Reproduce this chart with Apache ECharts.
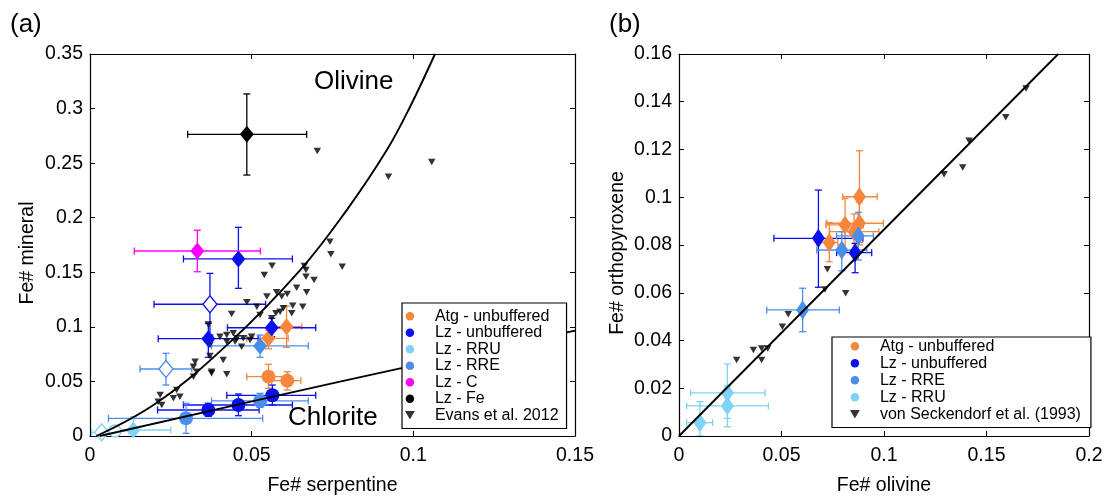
<!DOCTYPE html>
<html><head><meta charset="utf-8">
<script src="https://cdn.jsdelivr.net/npm/echarts@6/dist/echarts.min.js"></script>
<style>html,body{margin:0;padding:0;background:#fff}#c{width:1108px;height:497px}</style>
</head><body><div id="c"></div>
<script>
// ---------- tick values ----------
const xTicksA = [0, 0.05, 0.1, 0.15];
const yTicksA = [0, 0.05, 0.1, 0.15, 0.2, 0.25, 0.3, 0.35];
const xTicksB = [0, 0.05, 0.1, 0.15, 0.2];
const yTicksB = [0, 0.02, 0.04, 0.06, 0.08, 0.1, 0.12, 0.14, 0.16];

// ---------- panel (a): [x, y, xLow, xHigh, yLow, yHigh] ----------
const atgDiamondsA = [[0.0608,0.1002,0.0567,0.0655,0.0812,0.1191],[0.0552,0.0895,0.0485,0.0613,0.080,0.097]];
const atgCirclesA = [[0.0552,0.0544,0.0485,0.0613,0.0437,0.0657],[0.061,0.0507,0.0562,0.0652,0.0421,0.0589]];
const lzUnbufDiamondsA = [[0.0459,0.1622,0.0289,0.0626,0.1353,0.1912],[0.0366,0.0892,0.0211,0.052,0.0721,0.1032],[0.0562,0.0992,0.0425,0.0698,0.091,0.1078]];
const lzUnbufOpenA = [[0.0371,0.1207,0.0198,0.0543,0.0925,0.149]];
const lzUnbufCirclesA = [[0.0564,0.0373,0.0423,0.0698,0.0284,0.0467],[0.0459,0.0284,0.0289,0.0626,0.0186,0.0385],[0.0366,0.0238,0.0209,0.0523,0.018,0.030]];
const rreDiamondsA = [[0.0526,0.0825,0.0376,0.0675,0.0721,0.0925]];
const rreOpenA = [[0.0235,0.0614,0.0155,0.0315,0.0467,0.0758]];
const rreCirclesA = [[0.0526,0.0321,0.0376,0.0675,0.0263,0.0391],[0.0297,0.0162,0.0057,0.0534,0.0025,0.030]];
const rruDiamondsA = [[0.0134,0.0055,0.003,0.025,0,0.0177]];
const rruOpenDiamondsA = [[0.0036,0.0034,0.0005,0.0075,0,0.008]];
const rruOpenCirclesA = [[0.0077,0.0046,0.004,0.012,0.001,0.008]];
const lzCDiamondsA = [[0.0332,0.1695,0.0137,0.0527,0.1505,0.1885]];
const lzFeDiamondsA = [[0.0485,0.2764,0.0302,0.067,0.2391,0.3134]];
const evansA = [[0.1057,0.251],[0.0923,0.2376],[0.0703,0.2611],[0.0742,0.178],[0.0745,0.1665],[0.078,0.1551],[0.0663,0.1558],[0.0668,0.146],[0.0693,0.1429],[0.0563,0.156],[0.0539,0.1475],[0.0639,0.1359],[0.067,0.1317],[0.0577,0.1317],[0.061,0.1301],[0.0593,0.1277],[0.0547,0.1277],[0.0485,0.1225],[0.0516,0.1185],[0.0627,0.1194],[0.0658,0.1185],[0.0588,0.1139],[0.0624,0.1124],[0.0575,0.1124],[0.0526,0.1109],[0.0438,0.1118],[0.0562,0.1078],[0.0366,0.1022],[0.0598,0.117],[0.0402,0.091],[0.0423,0.0925],[0.0443,0.0941],[0.0454,0.0895],[0.0474,0.0895],[0.05,0.091],[0.0423,0.0864],[0.0449,0.0864],[0.0469,0.0818],[0.0371,0.0834],[0.0412,0.0696],[0.0325,0.0681],[0.032,0.0635],[0.033,0.0589],[0.0376,0.0589],[0.0371,0.0733],[0.0268,0.0421],[0.0278,0.036],[0.0258,0.0345],[0.0217,0.0376],[0.0211,0.0314],[0.0222,0.0284],[0.0495,0.088],[0.0668,0.152],[0.0423,0.0565],[0.0376,0.0574],[0.032,0.0544]];
const olivineCurve = [[0.002,0],[0.0211,0.0314],[0.0433,0.086],[0.065,0.152],[0.0794,0.207],[0.0918,0.262],[0.099,0.3017],[0.1067,0.35]];
const chloriteCurve = [[0.003,0],[0.0773,0.0498],[0.15,0.0965]];

// ---------- panel (b) ----------
const atgB = [[0.088,0.1002,0.0799,0.0967,0.081,0.1195],[0.081,0.0884,0.0717,0.0899,0.0775,0.0995],[0.088,0.0891,0.072,0.0997,0.080,0.098],[0.0854,0.0856,0.0735,0.0975,0.078,0.093],[0.0733,0.081,0.0672,0.0775,0.073,0.0894]];
const lzUnbufB = [[0.068,0.0828,0.0463,0.0897,0.0623,0.103],[0.0859,0.0768,0.0769,0.094,0.0684,0.0807]];
const rreB = [[0.0794,0.0779,0.0672,0.0916,0.0692,0.0856],[0.0875,0.0838,0.0769,0.0948,0.0737,0.0937],[0.0603,0.0528,0.0428,0.0782,0.0437,0.0619]];
const rruB = [[0.0236,0.0181,0.0057,0.042,0.0074,0.0302],[0.0236,0.0126,0.0037,0.0436,0.0039,0.0209],[0.0102,0.0056,0.0037,0.0164,0,0.0144]];
const seckendorfB = [[0.1693,0.1456],[0.1594,0.1335],[0.1415,0.1237],[0.1384,0.1125],[0.1293,0.1096],[0.0724,0.0698],[0.0712,0.0614],[0.0813,0.0598],[0.0533,0.051],[0.0504,0.0458],[0.0363,0.036],[0.0403,0.0367],[0.0433,0.0367],[0.0403,0.0318],[0.0281,0.0318]];
const fitLineB = [[0,0],[0.185,0.16]];

// ---------- styling ----------
const FONT = '"Liberation Sans", Arial, Helvetica, sans-serif';
const C = {atg:'#f5873d', lz:'#0a10f2', rru:'#7fd3f7', rre:'#4a8eea', c:'#ff00ff', fe:'#000000'};
const TRI = 'path://M0,0L10,0L5,8.66Z';

function axisPair(pos, gridIndex, ticks) {
  return {
    type:'value', gridIndex, position: pos,
    min: ticks[0], max: ticks[ticks.length-1], interval: ticks[1]-ticks[0],
    splitLine:{show:false},
    axisLine:{show:true, onZero:false, lineStyle:{color:'#000', width:1.2}},
    axisTick:{show:true, inside:true, length:5, lineStyle:{color:'#000', width:1}},
    axisLabel:{show:false}
  };
}
function mainAxis(pos, gridIndex, ticks, name, nameGap, isX) {
  const a = axisPair(pos, gridIndex, ticks);
  a.axisLabel = {show:true, fontSize:19.5, fontFamily:FONT, color:'#000', margin: isX ? 10 : 7,
    showMinLabel:true, showMaxLabel:true, formatter: v => String(+v.toFixed(4))};
  a.name = name; a.nameLocation = 'middle'; a.nameGap = nameGap;
  a.nameTextStyle = {fontSize:19.5, fontFamily:FONT, color:'#000', padding: isX ? 0 : [0, 16, 0, 0]};
  return a;
}

function errSeries(name, data, color, xi, yi) {
  return {
    type:'custom', name, xAxisIndex:xi, yAxisIndex:yi, silent:true, clip:true,
    dimensions:['x','y','xl','xh','yl','yh'], encode:{x:0, y:1},
    data,
    renderItem(params, api) {
      const x = api.value(0), y = api.value(1);
      const L = api.coord([api.value(2), y]), R = api.coord([api.value(3), y]);
      const B = api.coord([x, api.value(4)]), T = api.coord([x, api.value(5)]);
      const h = 3.5, st = {stroke:color, lineWidth:1.3, fill:null};
      const ln = (x1,y1,x2,y2) => ({type:'line', shape:{x1,y1,x2,y2}, style:st});
      return {type:'group', children:[
        ln(L[0],L[1],R[0],R[1]), ln(L[0],L[1]-h,L[0],L[1]+h), ln(R[0],R[1]-h,R[0],R[1]+h),
        ln(B[0],B[1],T[0],T[1]), ln(B[0]-h,B[1],B[0]+h,B[1]), ln(T[0]-h,T[1],T[0]+h,T[1])
      ]};
    }
  };
}
function markSeries(name, data, color, symbol, size, xi, yi, open) {
  return {
    type:'scatter', name, xAxisIndex:xi, yAxisIndex:yi, symbol, symbolSize:size,
    data: data.map(r => [r[0], r[1]]),
    itemStyle: open ? {color:'#fff', borderColor:color, borderWidth:1.4, opacity:1}
                    : {color, borderWidth:0, opacity:1},
    emphasis:{disabled:true}
  };
}
function group(name, data, color, symbol, size, xi, yi, open) {
  return [errSeries(name + ' err', data, color, xi, yi), markSeries(name, data, color, symbol, size, xi, yi, open)];
}

const DA = [14,17], DB = [13,19], TS = [7.5,6.5];
const series = [
  // panel (a)
  {type:'line', name:'olivine', xAxisIndex:0, yAxisIndex:0, data:olivineCurve, smooth:0.4, showSymbol:false, symbol:'none', lineStyle:{color:'#000', width:1.9}, silent:true, clip:true},
  {type:'line', name:'chlorite', xAxisIndex:0, yAxisIndex:0, data:chloriteCurve, smooth:0.4, showSymbol:false, symbol:'none', lineStyle:{color:'#000', width:1.9}, silent:true, clip:true},
  {type:'scatter', name:'Evans et al. 2012', xAxisIndex:0, yAxisIndex:0, symbol:TRI, symbolSize:TS, data:evansA, itemStyle:{color:'#000'}},
  ...group('Atg - unbuffered', atgDiamondsA, C.atg, 'diamond', DA, 0, 0),
  ...group('Atg - unbuffered c', atgCirclesA, C.atg, 'circle', 14, 0, 0),
  ...group('Lz - unbuffered', lzUnbufDiamondsA, C.lz, 'diamond', DA, 0, 0),
  ...group('Lz - unbuffered o', lzUnbufOpenA, C.lz, 'diamond', DA, 0, 0, true),
  ...group('Lz - unbuffered c', lzUnbufCirclesA, C.lz, 'circle', 14, 0, 0),
  ...group('Lz - RRE', rreDiamondsA, C.rre, 'diamond', DA, 0, 0),
  ...group('Lz - RRE o', rreOpenA, C.rre, 'diamond', DA, 0, 0, true),
  ...group('Lz - RRE c', rreCirclesA, C.rre, 'circle', 14, 0, 0),
  ...group('Lz - RRU', rruDiamondsA, C.rru, 'diamond', DA, 0, 0),
  ...group('Lz - RRU o', rruOpenDiamondsA, C.rru, 'diamond', DA, 0, 0, true),
  ...group('Lz - RRU oc', rruOpenCirclesA, C.rru, 'circle', 12, 0, 0, true),
  ...group('Lz - C', lzCDiamondsA, C.c, 'diamond', DA, 0, 0),
  ...group('Lz - Fe', lzFeDiamondsA, C.fe, 'diamond', DA, 0, 0),
  // panel (b)
  {type:'line', name:'fit', xAxisIndex:2, yAxisIndex:2, data:fitLineB, showSymbol:false, symbol:'none', lineStyle:{color:'#000', width:1.9}, silent:true, clip:true},
  {type:'scatter', name:'von Seckendorf et al. (1993)', xAxisIndex:2, yAxisIndex:2, symbol:TRI, symbolSize:TS, data:seckendorfB, itemStyle:{color:'#000'}},
  ...group('Atg - unbuffered b', atgB, C.atg, 'diamond', DB, 2, 2),
  ...group('Lz - unbuffered b', lzUnbufB, C.lz, 'diamond', DB, 2, 2),
  ...group('Lz - RRE b', rreB, C.rre, 'diamond', DB, 2, 2),
  ...group('Lz - RRU b', rruB, C.rru, 'diamond', DB, 2, 2)
];

function legendBox(items, left, top, padding, gap) {
  return {
    show:true, orient:'vertical', left, top, padding, itemGap:gap, itemWidth:10, itemHeight:8.5,
    selectedMode:false, backgroundColor:'#fff', borderColor:'#000', borderWidth:1.2, borderRadius:0, z:20,
    formatter: n => '{p|}' + n,
    textStyle:{fontSize:16, fontFamily:FONT, color:'#000', lineHeight:16.5, rich:{p:{width:15}}},
    data: items.map(it => ({name:it[0], icon:it[1], itemStyle:{color:it[2], borderWidth:0}}))
  };
}

const option = {
  animation:false,
  backgroundColor:'#fff',
  textStyle:{fontFamily:FONT},
  grid:[
    {left:90, top:54, width:485, height:382, outerBoundsMode:'none', containLabel:false},
    {left:679, top:54, width:410, height:382, outerBoundsMode:'none', containLabel:false}
  ],
  xAxis:[
    mainAxis('bottom', 0, xTicksA, 'Fe# serpentine', 40, true),
    axisPair('top', 0, xTicksA),
    mainAxis('bottom', 1, xTicksB, 'Fe# olivine', 40, true),
    axisPair('top', 1, xTicksB)
  ],
  yAxis:[
    mainAxis('left', 0, yTicksA, 'Fe# mineral', 52, false),
    axisPair('right', 0, yTicksA),
    mainAxis('left', 1, yTicksB, 'Fe# orthopyroxene', 51, false),
    axisPair('right', 1, yTicksB)
  ],
  legend:[
    legendBox([['Atg - unbuffered','circle',C.atg],['Lz - unbuffered','circle',C.lz],['Lz - RRU','circle',C.rru],['Lz - RRE','circle',C.rre],['Lz - C','circle',C.c],['Lz - Fe','circle',C.fe],['Evans et al. 2012',TRI,'#000']], 402, 303, [5,8,5,3], 0),
    legendBox([['Atg - unbuffered','circle',C.atg],['Lz - unbuffered','circle',C.lz],['Lz - RRE','circle',C.rre],['Lz - RRU','circle',C.rru],['von Seckendorf et al. (1993)',TRI,'#000']], 832, 337, [1,10,5,18], 0.5)
  ],
  graphic:[
    {type:'text', left:10, top:12, style:{text:'(a)', fontSize:26, fontFamily:FONT, fill:'#000'}},
    {type:'text', left:609, top:12, style:{text:'(b)', fontSize:26, fontFamily:FONT, fill:'#000'}},
    {type:'text', left:314, top:69, style:{text:'Olivine', fontSize:26, fontFamily:FONT, fill:'#000'}},
    {type:'text', left:288, top:405, style:{text:'Chlorite', fontSize:26, fontFamily:FONT, fill:'#000'}}
  ],
  series
};
const chart = echarts.init(document.getElementById('c'), null, {renderer:'canvas'});
chart.setOption(option);
</script>
</body></html>
